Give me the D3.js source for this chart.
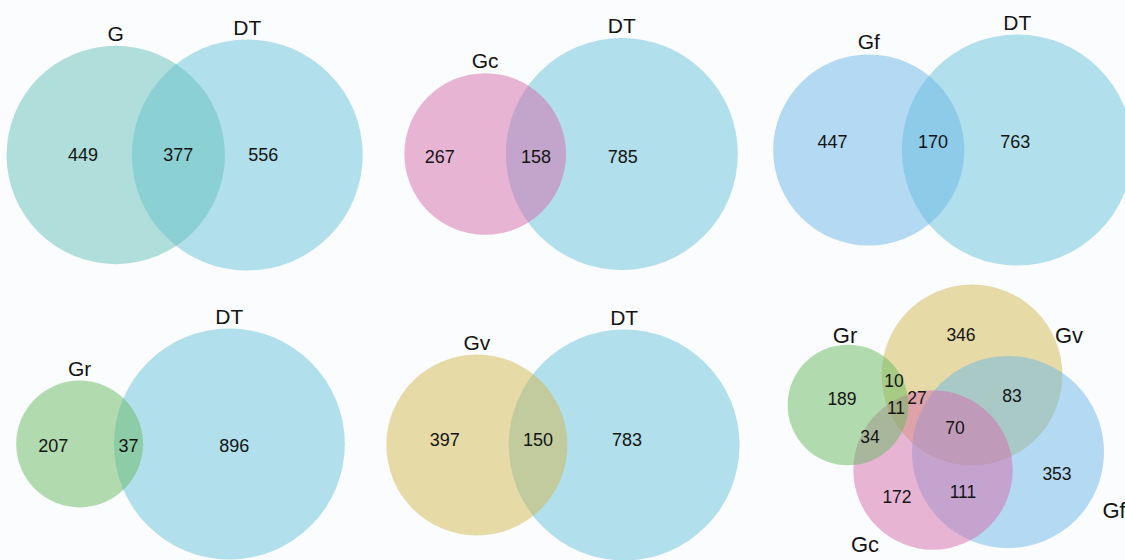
<!DOCTYPE html>
<html>
<head>
<meta charset="utf-8">
<script src="https://cdn.jsdelivr.net/npm/d3@7"></script>
<style>
  body { margin: 0; background: #fbfcfd; }
  svg { display: block; font-family: "Liberation Sans", Arial, sans-serif; }
  .num { font-size: 18px; fill: #141414; }
  .lab { font-size: 21px; fill: #141414; }
</style>
</head>
<body>
<svg id="chart" width="1125" height="560"></svg>
<script>
// two-set comparisons, each group against DT
const pairNames = ["G", "Gc", "Gf", "Gr", "Gv"];
const pairOnly = [449, 267, 447, 207, 397];
const pairShared = [377, 158, 170, 37, 150];
const dtOnly = [556, 785, 763, 896, 783];

// four-set diagram (regions and their counts)
const quadNames = ["Gv", "Gf", "Gc", "Gr"]; // drawing order
const quadRegionSets = [["Gv"], ["Gr"], ["Gr", "Gv"], ["Gv", "Gc"], ["Gv", "Gf"], ["Gr", "Gv", "Gc"],
                        ["Gv", "Gf", "Gc"], ["Gr", "Gc"], ["Gf"], ["Gc"], ["Gf", "Gc"]];
const quadRegionValues = [346, 189, 10, 27, 83, 11, 70, 34, 353, 172, 111];

const colors = { DT: "#67c1d9", G: "#65c1b9", Gc: "#d56bab", Gf: "#6bb7e7", Gr: "#67b961", Gv: "#d1b751" };

// layout (pixels)
const pairAnchors = [[181.5, 155], [553.5, 154], [943, 150], [154.5, 444], [550.5, 445]];
const pairNumDy = [0, 3, -8, 2, -5];
const pairNumDx = [[11, 12], [-13, -3], [2, -6], [-1, 1], [4, -1]];
const quadCenters = { Gr: [848, 405], Gv: [972, 375], Gf: [1008, 452], Gc: [933, 470] };
const quadLabelPos = { Gr: [845, 343], Gv: [1069, 343], Gf: [1114, 518], Gc: [865, 552] };
const quadNumPos = [[961, 335], [842, 399], [894, 381], [917, 398], [1012, 396], [896, 408],
                    [955, 428], [870, 437], [1057, 474], [897, 497], [963, 492]];

const svg = d3.select("#chart");
svg.append("rect").attr("width", 1125).attr("height", 560).attr("fill", "#fbfcfd");

const rPair = d3.scalePow().exponent(0.5).domain([0, 943]).range([9, 116]);
const lens = d3.scaleSqrt().domain([0, 377]).range([0, 93]);

pairNames.forEach((name, i) => {
  const g = svg.append("g");
  const smallTotal = pairOnly[i] + pairShared[i];
  const dtTotal = dtOnly[i] + pairShared[i];
  const rs = rPair(smallTotal), rd = rPair(dtTotal);
  const d = rs + rd - lens(pairShared[i]);
  const [mx, cy] = pairAnchors[i];
  const xs = mx - d / 2, xd = mx + d / 2;

  const circles = [
    { name: "DT", cx: xd, r: rd },
    { name: name, cx: xs, r: rs }
  ];
  g.selectAll("circle").data(circles).join("circle")
    .attr("cx", c => c.cx).attr("cy", cy).attr("r", c => c.r)
    .attr("fill", c => colors[c.name]).attr("fill-opacity", 0.5);

  g.selectAll("text.lab").data(circles).join("text")
    .attr("class", "lab").attr("text-anchor", "middle")
    .attr("x", c => c.cx).attr("y", c => cy - c.r - 5)
    .text(c => c.name);

  const lensLeft = xd - rd, lensRight = xs + rs;
  const nums = [
    { v: pairOnly[i], x: xs - 0.4 * rs + pairNumDx[i][0] },
    { v: pairShared[i], x: (lensLeft + lensRight) / 2 },
    { v: dtOnly[i], x: xd + 4 + pairNumDx[i][1] }
  ];
  g.selectAll("text.num").data(nums).join("text")
    .attr("class", "num").attr("text-anchor", "middle")
    .attr("x", n => n.x).attr("y", cy + pairNumDy[i]).attr("dy", "0.35em")
    .text(n => n.v);
});

// four-set diagram
const totals = {};
quadNames.forEach(n => {
  totals[n] = d3.sum(quadRegionSets.map((s, k) => s.includes(n) ? quadRegionValues[k] : 0));
});
const rQuad = d3.scaleSqrt().domain([0, d3.max(Object.values(totals))]).range([0, 96]);

const q = svg.append("g");
q.selectAll("circle").data(quadNames).join("circle")
  .attr("cx", n => quadCenters[n][0]).attr("cy", n => quadCenters[n][1])
  .attr("r", n => rQuad(totals[n]))
  .attr("fill", n => colors[n]).attr("fill-opacity", 0.5);

q.selectAll("text.lab").data(quadNames).join("text")
  .attr("class", "lab").attr("text-anchor", "middle").style("font-size", "22px")
  .attr("x", n => quadLabelPos[n][0]).attr("y", n => quadLabelPos[n][1])
  .text(n => n);

q.selectAll("text.num").data(quadRegionValues).join("text")
  .attr("class", "num").attr("text-anchor", "middle").style("font-size", "17.5px")
  .attr("x", (v, k) => quadNumPos[k][0]).attr("y", (v, k) => quadNumPos[k][1]).attr("dy", "0.35em")
  .text(v => v);
</script>
</body>
</html>
